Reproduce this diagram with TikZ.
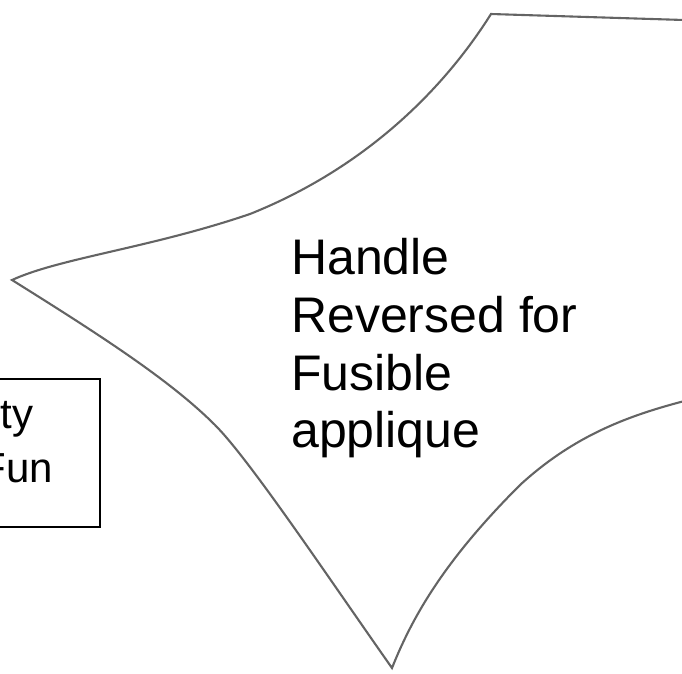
\documentclass[tikz,border=0pt]{standalone}
\usepackage{fontspec}
\setmainfont{Liberation Sans}
\definecolor{edgegray}{RGB}{100,100,100}
\tikzset{
  outline/.style={draw=edgegray, line width=2.1pt, line join=miter},
  bigtext/.style={inner sep=0pt, anchor=base west, font=\fontsize{50}{58}\selectfont},
  boxtext/.style={inner sep=0pt, anchor=base east, font=\fontsize{42}{54}\selectfont},
  boxframe/.style={draw=black, line width=1.5pt}
}
\begin{document}
\begin{tikzpicture}[x=1pt,y=-1pt]
\useasboundingbox (0,0) rectangle (682,673);
% star-like shape
\draw[outline]
  (700,397) .. controls (640,412) and (580,430) .. (520,485)
  .. controls (450,555) and (415,610) .. (392,668)
  .. controls (330,580) and (250,460) .. (215,425)
  .. controls (170,380) and (100,335) .. (12,280)
  .. controls (60,258) and (150,248) .. (250,214)
  .. controls (360,170) and (440,95) .. (491,14)
  -- (700,20.5);
% left box (partly outside the picture)
\draw[boxframe] (-80,379) rectangle (100,527);
\node[boxtext] (b1) at (33.5,428) {ty};
\node[boxtext] (b2) at (53,482) {Fun};
% main label
\node[bigtext] (t1) at (291,274) {Handle};
\node[bigtext] (t2) at (291,332) {Reversed for};
\node[bigtext] (t3) at (291,390) {Fusible};
\node[bigtext] (t4) at (291,447) {applique};
\end{tikzpicture}
\end{document}
